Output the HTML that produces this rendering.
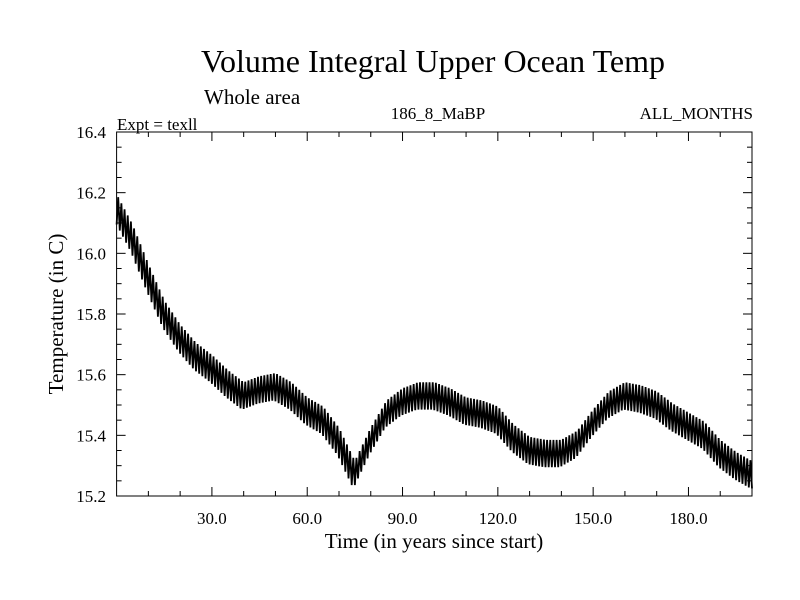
<!DOCTYPE html>
<html><head><meta charset="utf-8"><style>
body{margin:0;background:#fff}
svg{display:block;font-family:"Liberation Serif",serif}
</style></head><body>
<svg id="chart" width="800" height="600" viewBox="0 0 800 600">
<text x="433" y="72" font-size="32" text-anchor="middle">Volume Integral Upper Ocean Temp</text>
<text x="204" y="104" font-size="21">Whole area</text>
<text x="117" y="130" font-size="17">Expt = texll</text>
<text x="438" y="119" font-size="17" text-anchor="middle">186_8_MaBP</text>
<text x="753" y="119" font-size="17" text-anchor="end">ALL_MONTHS</text>
<text x="434" y="548" font-size="21" text-anchor="middle">Time (in years since start)</text>
<text transform="translate(63,314) rotate(-90)" font-size="21" text-anchor="middle">Temperature (in C)</text>
<g id="axes"></g>
<path id="series" fill="none" stroke="#000" stroke-width="1.8"/>
<rect x="116.6" y="132" width="635.4" height="364" fill="none" stroke="#000" stroke-width="1"/>
</svg>
<script>
const years=[0,5,10,15,20,25,30,35,40,45,50,55,60,65,70,75,80,85,90,95,100,105,110,115,120,125,130,135,140,145,150,155,160,165,170,175,180,185,190,195,200];
const meanTemp=[16.15,16.05,15.92,15.80,15.72,15.66,15.62,15.57,15.53,15.55,15.56,15.53,15.48,15.45,15.38,15.27,15.38,15.47,15.51,15.53,15.53,15.51,15.48,15.47,15.45,15.39,15.35,15.34,15.34,15.37,15.44,15.50,15.53,15.52,15.50,15.46,15.43,15.40,15.34,15.30,15.27];
const seasonalHalfRange=0.045;
const xTicks=[30,60,90,120,150,180];
const xTickLabels=["30.0","60.0","90.0","120.0","150.0","180.0"];
const yTicks=[15.2,15.4,15.6,15.8,16.0,16.2,16.4];
const yTickLabels=["15.2","15.4","15.6","15.8","16.0","16.2","16.4"];
const L=116.6,R=752,T=132,B=496,xMin=0,xMax=200,yMin=15.2,yMax=16.4;
const sx=v=>L+(v-xMin)/(xMax-xMin)*(R-L);
const sy=v=>B-(v-yMin)/(yMax-yMin)*(B-T);
const NS="http://www.w3.org/2000/svg";
const ax=document.getElementById('axes');
function line(x1,y1,x2,y2,name){const l=document.createElementNS(NS,'line');
l.setAttribute('x1',x1);l.setAttribute('y1',y1);l.setAttribute('x2',x2);l.setAttribute('y2',y2);
l.setAttribute('stroke','#000');l.setAttribute('stroke-width','1');


ax.appendChild(l);}
function text(x,y,s,anchor,name){const t=document.createElementNS(NS,'text');
t.setAttribute('x',x);t.setAttribute('y',y);t.setAttribute('font-size','17');t.setAttribute('text-anchor',anchor);t.textContent=s;


ax.appendChild(t);}
for(let v=10;v<200;v+=10){const major=v%30===0;const len=major?9:5;const x=sx(v);
line(x,B,x,B-len,'x-tick');line(x,T,x,T+len,'x-tick-top');}
for(let i=0;i<=24;i++){const v=yMin+i*0.05;const major=i%4===0;const len=major?9:5;const y=sy(v);
line(L,y,L+len,y,'y-tick');line(R,y,R-len,y,'y-tick-right');}
xTicks.forEach((v,i)=>text(sx(v),524,xTickLabels[i],'middle','x-tick-label'));
yTicks.forEach((v,i)=>text(106,sy(v)+6,yTickLabels[i],'end','y-tick-label'));
function meanAt(t){let i=0;while(i<years.length-2&&years[i+1]<t)i++;
const f=(t-years[i])/(years[i+1]-years[i]);return meanTemp[i]+(meanTemp[i+1]-meanTemp[i])*f;}
let d='';
for(let y=0;y<200;y++){const m=meanAt(y+0.5);
d+=(y===0?'M':'L')+sx(y).toFixed(2)+','+sy(m-seasonalHalfRange).toFixed(2);
d+='L'+sx(y+0.5).toFixed(2)+','+sy(m+seasonalHalfRange).toFixed(2);}
d+='L'+sx(200).toFixed(2)+','+sy(meanTemp[meanTemp.length-1]-seasonalHalfRange).toFixed(2);
document.getElementById('series').setAttribute('d',d);
</script>
</body></html>
